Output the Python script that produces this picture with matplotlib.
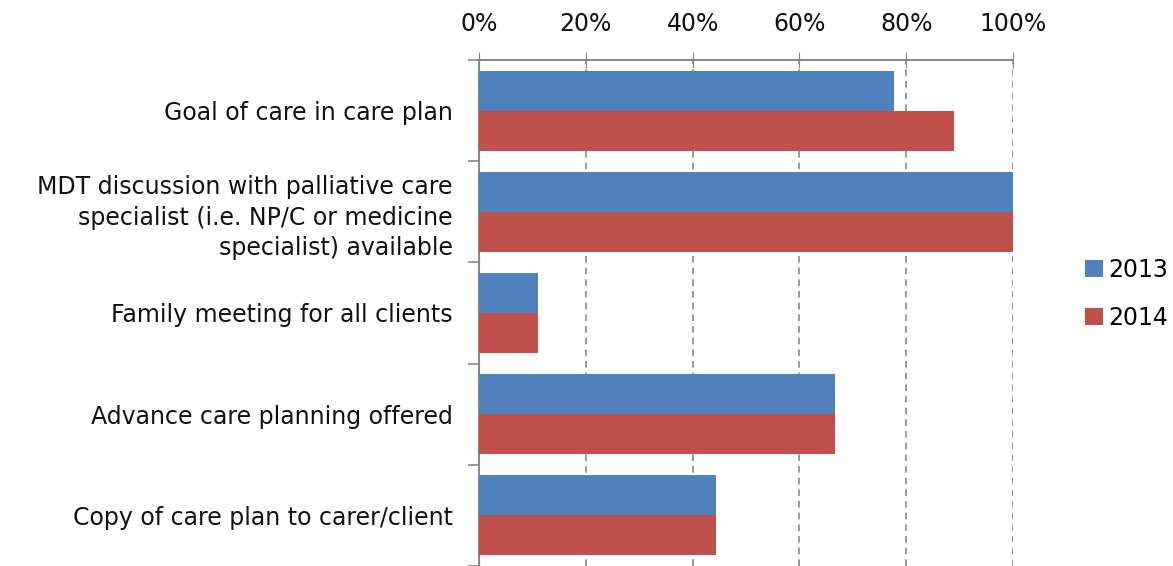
import numpy as np
import matplotlib.pyplot as plt
from matplotlib.ticker import PercentFormatter, FixedLocator

categories = ['Goal of care in care plan',
              'MDT discussion with palliative care\nspecialist (i.e. NP/C or medicine\nspecialist) available',
              'Family meeting for all clients',
              'Advance care planning offered',
              'Copy of care plan to carer/client']
vals_2013 = [77.8, 100, 11.1, 66.7, 44.4]
vals_2014 = [88.9, 100, 11.1, 66.7, 44.4]
series = ['2013', '2014']
colors = ['#4F81BD', '#C0504D']
ticks = [0, 20, 40, 60, 80, 100]

plt.rcParams['font.family'] = ['DejaVu Sans']
fig = plt.figure(figsize=(11.73, 5.66), dpi=100)
ax = fig.add_axes([0.4083, 0.0, 0.4553, 0.894])

y = np.arange(len(categories))
h = 0.395
ax.barh(y - h/2, vals_2013, height=h, color=colors[0], label=series[0], zorder=3)
ax.barh(y + h/2, vals_2014, height=h, color=colors[1], label=series[1], zorder=3)

ax.set_xlim(0, 100)
ax.set_ylim(len(categories) - 0.5, -0.5)
ax.xaxis.tick_top()
ax.set_xticks(ticks)
ax.xaxis.set_major_formatter(PercentFormatter(decimals=0))
ax.tick_params(axis='x', direction='inout', length=12, color='#888888', labelsize=17, pad=11,
               labelcolor='#111111')
ax.grid(axis='x', linestyle=(0, (4, 3)), color='#888888', linewidth=1.2, zorder=0)

ax.set_yticks(y)
ax.set_yticklabels(categories, fontsize=17, linespacing=1.35, color='#111111')
ax.tick_params(axis='y', length=0, pad=19)
ax.yaxis.set_minor_locator(FixedLocator(np.arange(-0.5, len(categories) + 0.5, 1)))
ax.tick_params(axis='y', which='minor', length=8, color='#888888', width=1.2)

for s in ['right', 'bottom']:
    ax.spines[s].set_visible(False)
for s in ['top', 'left']:
    ax.spines[s].set_color('#888888')
    ax.spines[s].set_linewidth(1.5)

ax.legend(loc='center left', bbox_to_anchor=(1.135, 0.538), frameon=False, fontsize=17,
          handlelength=0.75, handleheight=0.75, handletextpad=0.25, labelspacing=1.0,
          borderpad=0, borderaxespad=0)

fig.savefig('out.png', dpi=100)
